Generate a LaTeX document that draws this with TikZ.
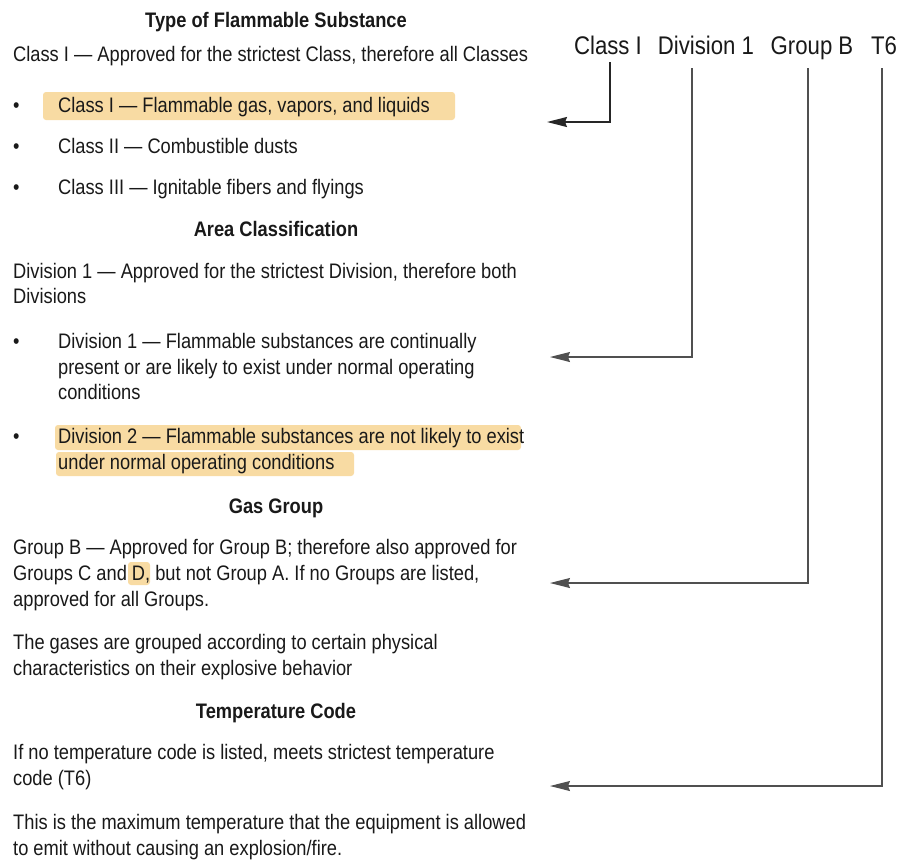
\documentclass[tikz,border=0pt]{standalone}
\usepackage{fontspec}
\setmainfont[FakeStretch=0.87]{Liberation Sans}
\usetikzlibrary{arrows.meta}
\definecolor{txt}{RGB}{25,25,25}
\definecolor{hl}{RGB}{247,210,140}
\definecolor{ln}{RGB}{80,80,80}
\begin{document}
\begin{tikzpicture}[x=1pt,y=-1pt,
  body/.style={anchor=base west,inner sep=0pt,text=txt,font=\fontsize{21}{25.5}\selectfont},
  head/.style={anchor=base,inner sep=0pt,text=txt,font=\fontsize{21}{25.5}\selectfont\bfseries},
  lbl/.style={anchor=base,inner sep=0pt,text=txt,font=\fontsize{25.5}{30}\selectfont},
  hlbox/.style={fill=hl,opacity=0.8,rounded corners=3pt},
  conn/.style={draw=ln,line width=1.2pt,-{Stealth[length=20pt,width=10pt,inset=2pt]}},
  connA/.style={draw=black!85,line width=1.6pt,-{Stealth[length=20pt,width=10pt,inset=2pt]}}]
\useasboundingbox (0,0) rectangle (902,863);
\fill[white] (0,0) rectangle (902,863);
% highlights
\fill[hlbox] (43,92) rectangle (455,120);
\fill[hlbox] (55,425) rectangle (521,450);
\fill[hlbox] (56,452) rectangle (354,476);
\fill[hlbox] (128,562) rectangle (150,585);
% headings
\node[head] (h1) at (276,27) {Type of Flammable Substance};
\node[head] (h2) at (276,236) {Area Classification};
\node[head] (h3) at (276,513) {Gas Group};
\node[head] (h4) at (276,718) {Temperature Code};
% section 1
\node[body] (t1) at (13,61) {Class I — Approved for the strictest Class, therefore all Classes};
\node[body] (d1) at (13,112) {•};
\node[body] (t2) at (58,112) {Class I — Flammable gas, vapors, and liquids};
\node[body] (d2) at (13,153) {•};
\node[body] (t3) at (58,153) {Class II — Combustible dusts};
\node[body] (d3) at (13,194) {•};
\node[body] (t4) at (58,194) {Class III — Ignitable fibers and flyings};
% section 2
\node[body] (t5) at (13,278) {Division 1 — Approved for the strictest Division, therefore both};
\node[body] (t6) at (13,303) {Divisions};
\node[body] (d4) at (13,348) {•};
\node[body] (t7) at (58,348) {Division 1 — Flammable substances are continually};
\node[body] (t8) at (58,374) {present or are likely to exist under normal operating};
\node[body] (t9) at (58,399) {conditions};
\node[body] (d5) at (13,443) {•};
\node[body] (t10) at (58,443) {Division 2 — Flammable substances are not likely to exist};
\node[body] (t11) at (58,469) {under normal operating conditions};
% section 3
\node[body] (t12) at (13,554) {Group B — Approved for Group B; therefore also approved for};
\node[body] (t13) at (13,580) {Groups C and D, but not Group A. If no Groups are listed,};
\node[body] (t14) at (13,606) {approved for all Groups.};
\node[body] (t15) at (13,649) {The gases are grouped according to certain physical};
\node[body] (t16) at (13,675) {characteristics on their explosive behavior};
% section 4
\node[body] (t17) at (13,759) {If no temperature code is listed, meets strictest temperature};
\node[body] (t18) at (13,785) {code (T6)};
\node[body] (t19) at (13,829) {This is the maximum temperature that the equipment is allowed};
\node[body] (t20) at (13,855) {to emit without causing an explosion/fire.};
% labels
\node[lbl] (lc) at (608,54) {Class I};
\node[lbl] (ld) at (706,54) {Division 1};
\node[lbl] (lg) at (812,54) {Group B};
\node[lbl] (lt) at (884,54) {T6};
% connector ends
\coordinate (ctop) at (610,62);
\coordinate (ctip) at (547,122);
\coordinate (dtop) at (692,68);
\coordinate (dtip) at (550,357);
\coordinate (gtop) at (808,68);
\coordinate (gtip) at (550,583);
\coordinate (ttop) at (882,68);
\coordinate (ttip) at (550,786);
\draw[connA] (ctop) |- (ctip);
\draw[conn] (dtop) |- (dtip);
\draw[conn] (gtop) |- (gtip);
\draw[conn] (ttop) |- (ttip);
\end{tikzpicture}
\end{document}
